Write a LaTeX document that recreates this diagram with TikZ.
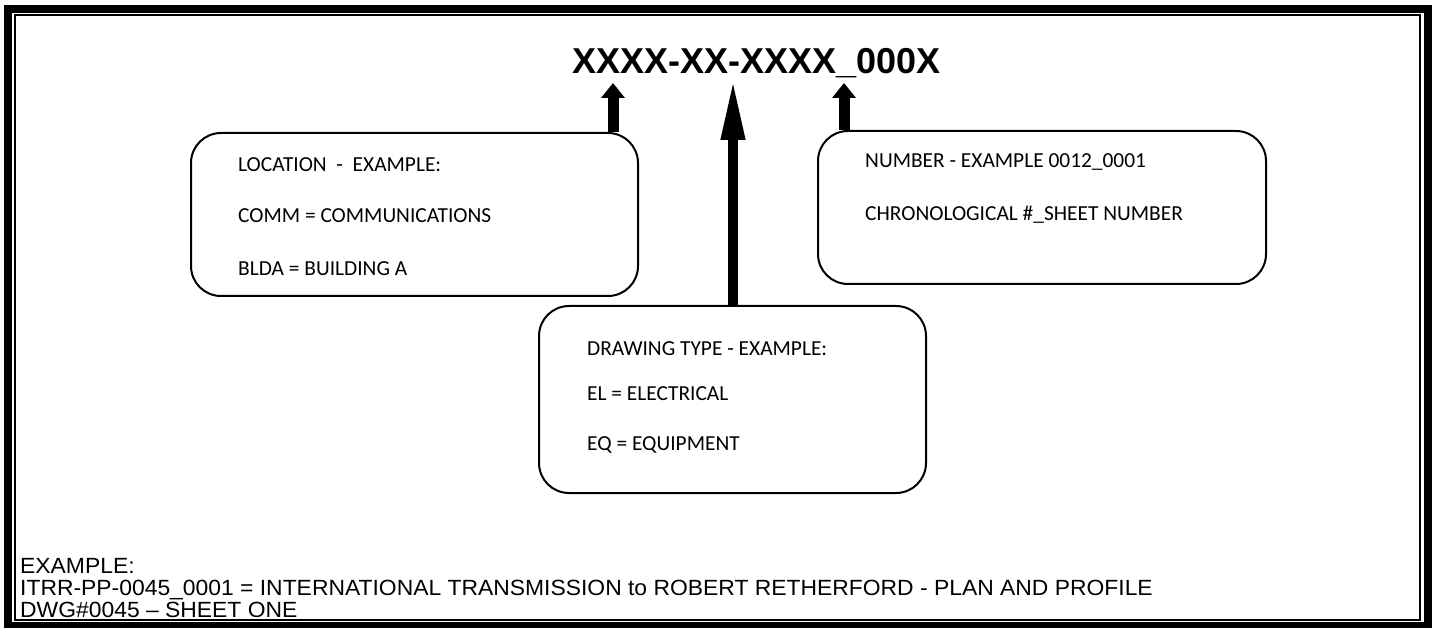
\documentclass[tikz,border=0pt]{standalone}
\usepackage{fontspec}
\setmainfont{Liberation Sans}
\newfontfamily\calibri{Carlito}
\newfontfamily\widearial[FakeStretch=1.04]{Liberation Sans}
\usetikzlibrary{arrows.meta}
\begin{document}
\begin{tikzpicture}[x=1pt,y=-1pt,
  frameout/.style={line width=8pt},
  framein/.style={line width=2pt},
  callout/.style={draw, line width=2pt, rounded corners=30pt, inner sep=0pt, anchor=north west},
  boxtext/.style={anchor=base west, inner sep=0pt, font=\calibri\fontsize{21.4}{25}\selectfont},
  bottomtext/.style={anchor=base west, inner sep=0pt, font=\widearial\fontsize{22}{26}\selectfont},
  title/.style={anchor=base west, inner sep=0pt, font=\fontsize{36}{43}\selectfont\bfseries},
  shortarrow/.style={line width=11pt, -{Triangle[length=15pt,width=23pt]}},
  longarrow/.style={line width=10pt, -{Triangle[length=62pt,width=22pt]}}
]
\useasboundingbox (0,0) rectangle (1432,628);
\begin{scope}
\clip (0,0) rectangle (1432,628);
\draw[frameout] (8,9) rectangle (1428,626);
\draw[framein] (15,15) rectangle (1420,620);
\end{scope}

\node[title] (code) at (572,74) {XXXX-XX-XXXX\_000X};

\node[callout, minimum width=447pt, minimum height=163pt] (loc) at (190,132) {};
\node[callout, minimum width=448pt, minimum height=153pt] (num) at (817,130) {};
\node[callout, minimum width=387pt, minimum height=187pt] (typ) at (538,305) {};

\coordinate (tipL) at (613,83);
\coordinate (tipM) at (733,78);
\coordinate (tipR) at (844,83);
\draw[shortarrow] (tipL |- loc.north) -- (tipL);
\draw[longarrow] (tipM |- typ.north) -- (tipM);
\draw[shortarrow] (tipR |- num.north) -- (tipR);

\node[boxtext] (loc1) at (238,172) {LOCATION~~-~~EXAMPLE:};
\node[boxtext] (loc2) at (238,223) {COMM = COMMUNICATIONS};
\node[boxtext] (loc3) at (238,276) {BLDA = BUILDING A};

\node[boxtext] (num1) at (865,168) {NUMBER - EXAMPLE 0012\_0001};
\node[boxtext] (num2) at (865,221) {CHRONOLOGICAL \#\_SHEET NUMBER};

\node[boxtext] (typ1) at (587,355) {DRAWING TYPE - EXAMPLE:};
\node[boxtext] (typ2) at (587,400) {EL = ELECTRICAL};
\node[boxtext] (typ3) at (587,450) {EQ = EQUIPMENT};

\node[bottomtext] (ex1) at (20,573) {EXAMPLE:};
\node[bottomtext] (ex2) at (20,595) {ITRR-PP-0045\_0001 = INTERNATIONAL TRANSMISSION to ROBERT RETHERFORD - PLAN AND PROFILE};
\node[bottomtext] (ex3) at (20,617) {DWG\#0045 – SHEET ONE};
\end{tikzpicture}
\end{document}
